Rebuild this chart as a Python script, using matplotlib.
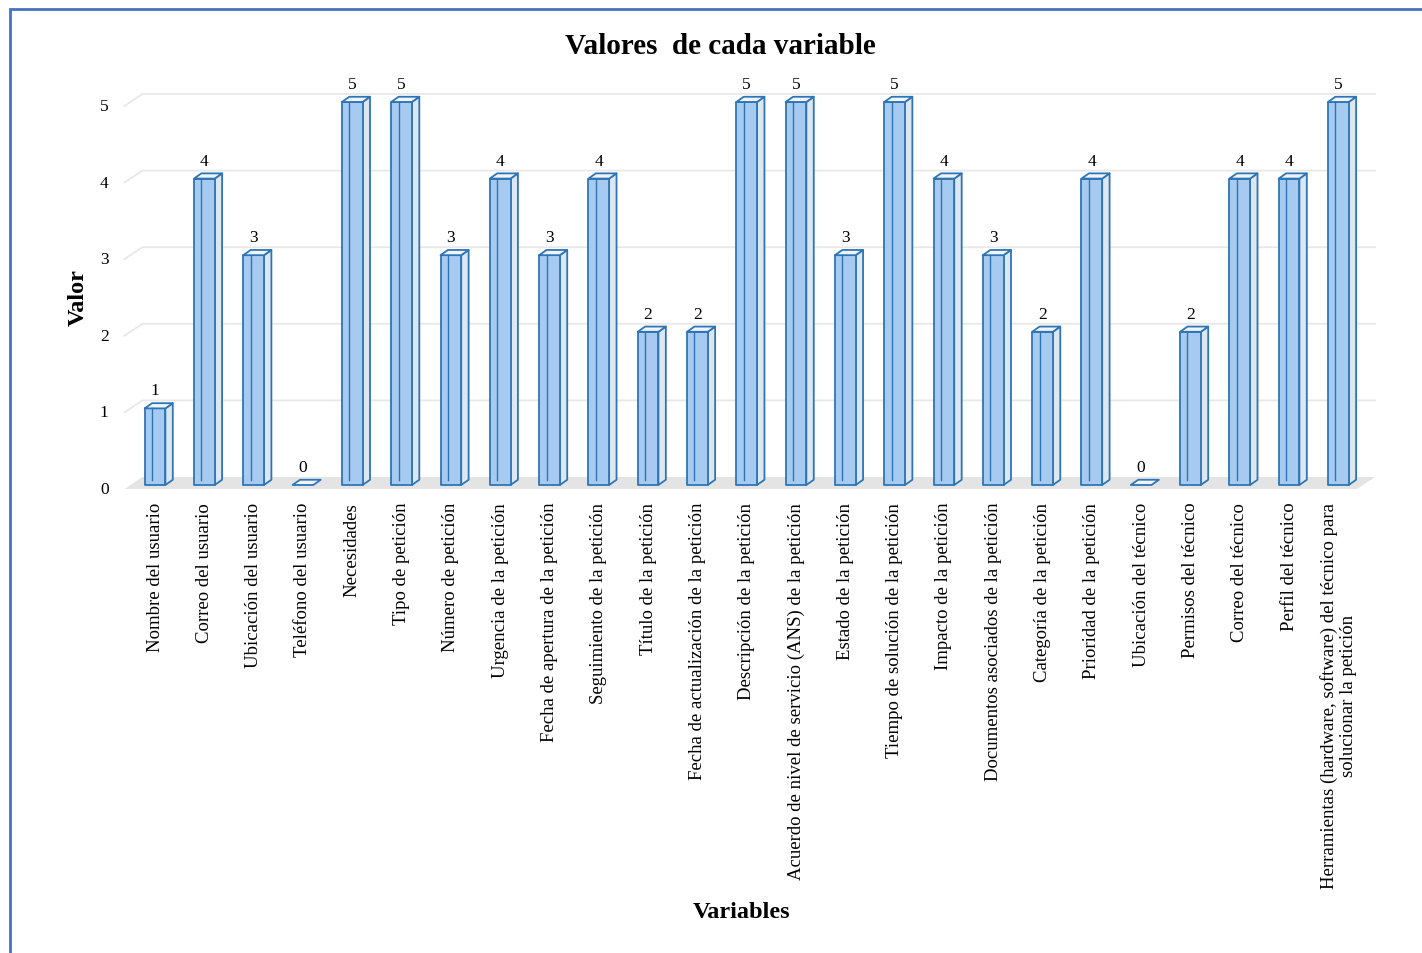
import matplotlib
matplotlib.use('Agg')
import matplotlib.pyplot as plt
from matplotlib.patches import Polygon, Rectangle

# --- datos ---
variables = [
    "Nombre del usuario", "Correo del usuario", "Ubicación del usuario",
    "Teléfono del usuario", "Necesidades", "Tipo de petición",
    "Número de petición", "Urgencia de la petición",
    "Fecha de apertura de la petición", "Seguimiento de la petición",
    "Título de la petición", "Fecha de actualización de la petición",
    "Descripción de la petición",
    "Acuerdo de nivel de servicio (ANS) de la petición",
    "Estado de la petición", "Tiempo de solución de la petición",
    "Impacto de la petición", "Documentos asociados de la petición",
    "Categoría de la petición", "Prioridad de la petición",
    "Ubicación del técnico", "Permisos del técnico", "Correo del técnico",
    "Perfil del técnico",
    "Herramientas (hardware, software) del técnico para\nsolucionar la petición",
]
valores = [1, 4, 3, 0, 5, 5, 3, 4, 3, 4, 2, 2, 5, 5, 3, 5, 4, 3, 2, 4, 0, 2, 4, 4, 5]
y_ticks = [0, 1, 2, 3, 4, 5]

FONT = 'Liberation Serif'
plt.rcParams['font.family'] = [FONT, 'DejaVu Serif']

# colores estilo Excel
EDGE = '#2e75b6'
FRONT = '#a6caf0'
SIDE = '#dde7f1'
TOP = '#f1f5fb'
FLOOR = '#e4e4e4'
GRID = '#e8e8e8'

# desplazamientos de profundidad (unidades de datos)
bw = 0.42                 # ancho de la cara frontal
bdx, bdy = 0.15, 0.068    # fondo de cada barra
fdx, fdy = -0.12, -0.052  # plano frontal del suelo
kdx, kdy = 0.243, 0.104   # pared trasera
x_lo, x_hi = -0.5, len(valores) - 0.5

fig = plt.figure(figsize=(14.22, 9.54), dpi=100)
ax = fig.add_axes([100 / 1422, 1 - 500 / 954, 1300 / 1422, 440 / 954])
ax.set_xlim(-1.116, 25.25)
ax.set_ylim(-0.183, 5.561)
for s in ax.spines.values():
    s.set_visible(False)
ax.set_yticks([])

# suelo
ax.add_patch(Polygon([(x_lo + fdx, fdy), (x_hi + fdx, fdy),
                      (x_hi + kdx, kdy), (x_lo + kdx, kdy)],
                     closed=True, fc=FLOOR, ec='none', zorder=1))

# líneas de cuadrícula en la pared trasera
for v in y_ticks[1:]:
    ax.plot([x_lo + fdx, x_lo + kdx, x_hi + kdx],
            [v + fdy, v + kdy, v + kdy], color=GRID, lw=1.3, zorder=1)

# etiquetas del eje Y
for v in y_ticks:
    ax.text(-1.03, v + fdy, str(v), ha='center', va='center', fontsize=12.5)

# barras 3D
for i, v in enumerate(valores):
    x0, x1 = i - bw / 2, i + bw / 2
    kw = dict(closed=True, ec=EDGE, lw=1.3, joinstyle='round', zorder=3)
    if v > 0:
        ax.add_patch(Polygon([(x1, 0), (x1 + bdx, bdy), (x1 + bdx, v + bdy), (x1, v)],
                             fc=SIDE, **kw))
        ax.add_patch(Polygon([(x0, 0), (x1, 0), (x1, v), (x0, v)], fc=FRONT, **kw))
        # arista trasera vista a través de la cara frontal
        ax.plot([x0 + bdx, x0 + bdx], [bdy, v], color=EDGE, lw=1.0, zorder=4)
    ax.add_patch(Polygon([(x0, v), (x1, v), (x1 + bdx, v + bdy), (x0 + bdx, v + bdy)],
                         fc=TOP, **kw))
    ax.text(i, v + 0.235, str(v), ha='center', va='center', fontsize=12.5, zorder=5)

ax.set_xticks(range(len(variables)))
ax.set_xticklabels(variables, rotation=90, ha='center', va='top', fontsize=13.5)
ax.tick_params(axis='x', length=0, pad=2)

fig.text(720 / 1422, 1 - 46 / 954, "Valores  de cada variable", ha='center', va='center',
         fontsize=21, fontweight='bold')
fig.text(78 / 1422, 1 - 298 / 954, "Valor", ha='center', va='center', rotation=90,
         fontsize=17.5, fontweight='bold')
fig.text(742 / 1422, 1 - 913 / 954, "Variables", ha='center', va='center',
         fontsize=17.5, fontweight='bold')

# marco del gráfico
fig.patches.append(Rectangle((10 / 1422, -0.1), 2, 1 - 10 / 954 + 0.1,
                             transform=fig.transFigure, fill=False,
                             ec='#4472c4', lw=2))

fig.savefig('out.png', dpi=100)
